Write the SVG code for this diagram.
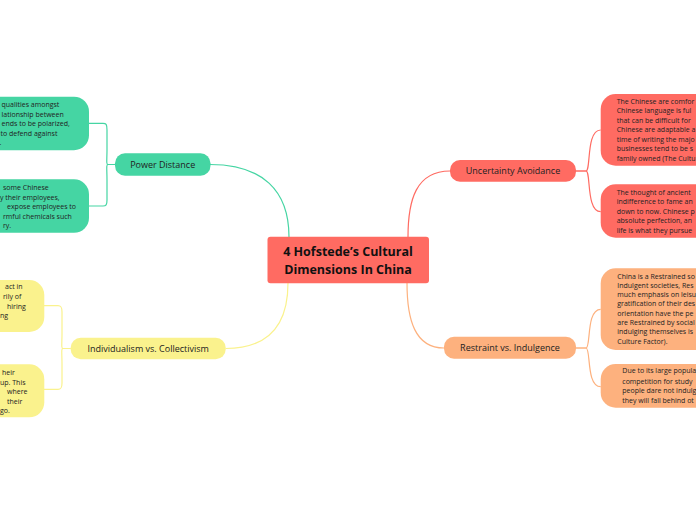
<svg xmlns="http://www.w3.org/2000/svg" width="696" height="520" viewBox="0 0 696 520">
<style>
  .c { fill: none; stroke-width: 1.2; }
  .t { font-family: "Open Sans", "Noto Sans", sans-serif; fill: #222; }
  .leaf { font-size: 7px; }
  .br { font-size: 9px; text-anchor: middle; }
  .ctr { font-size: 12.5px; font-weight: bold; text-anchor: middle; fill: #111; }
  .green { fill: #45D5A3; }
  .yellow { fill: #FAF28D; }
  .red { fill: #FF6B62; }
  .orange { fill: #FDB17E; }
</style>
<rect width="696" height="520" fill="#ffffff"/>
<g id="connectors">
  <path class="c" stroke="#45D5A3" d="M210,164.5 C262,164.5 289,190 289,237"/>
  <path class="c" stroke="#45D5A3" d="M115,164.5 H108 C106,164.5 107,160 107,150 V130 C107,124 106,123.3 103,123.3 H89"/>
  <path class="c" stroke="#45D5A3" d="M115,164.5 H108 C106,164.5 107,169 107,180 V200 C107,205 106,206 103,206 H89"/>
  <path class="c" stroke="#FAF28D" d="M225.5,348.5 C272,348.5 288,322 288,283"/>
  <path class="c" stroke="#FAF28D" d="M70.7,348.5 H63 C61,348.5 62,344 62,334 V312 C62,307 61,305.7 58,305.7 H44"/>
  <path class="c" stroke="#FAF28D" d="M70.7,348.5 H63 C61,348.5 62,353 62,364 V383 C62,388 61,389.3 58,389.3 H44"/>
  <path class="c" stroke="#FF6B62" d="M450,171 C416,171 408,200 408,237"/>
  <path class="c" stroke="#FF6B62" d="M576,171 H586 C591,171 586,130 600.7,130"/>
  <path class="c" stroke="#FF6B62" d="M576,171 H586 C591,171 586,211.7 600.7,211.7"/>
  <path class="c" stroke="#FDB17E" d="M444,348 C415,348 407,320 407,283"/>
  <path class="c" stroke="#FDB17E" d="M576,348 H586 C591,348 586,309.3 600.7,309.3"/>
  <path class="c" stroke="#FDB17E" d="M576,348 H586 C591,348 586,386.7 600.7,386.7"/>
</g>
<g id="center">
  <rect class="red" x="267.5" y="236.8" width="161.5" height="46.4" rx="3"/>
  <text class="t ctr" x="348" y="256.3">4 Hofstede’s Cultural</text>
  <text class="t ctr" x="348" y="274">Dimensions In China</text>
</g>
<g id="power-distance">
  <rect class="green" x="115" y="153.3" width="95.5" height="22.4" rx="10"/>
  <text class="t br" x="162.7" y="167.8">Power Distance</text>
</g>
<g id="pd-leaf-1">
  <rect class="green" x="-30" y="96.7" width="119" height="53.5" rx="15"/>
  <text class="t leaf" x="1.5" y="107.2">qualities amongst</text>
  <text class="t leaf" x="1.5" y="116.7">lationship between</text>
  <text class="t leaf" x="1.5" y="126.2">ends to be polarized,</text>
  <text class="t leaf" x="0.5" y="135.7">to defend against</text>
  <text class="t leaf" x="-0.5" y="145.2">.</text>
</g>
<g id="pd-leaf-2">
  <rect class="green" x="-30" y="179.3" width="119" height="53.5" rx="15"/>
  <text class="t leaf" x="3" y="190">some Chinese</text>
  <text class="t leaf" x="0" y="199.5">y their employees,</text>
  <text class="t leaf" x="7" y="209">expose employees to</text>
  <text class="t leaf" x="3" y="218.5">rmful chemicals such</text>
  <text class="t leaf" x="3" y="228">ry.</text>
</g>
<g id="individualism">
  <rect class="yellow" x="70.7" y="337.7" width="155" height="21.6" rx="10"/>
  <text class="t br" x="148.2" y="351.7">Individualism vs. Collectivism</text>
</g>
<g id="ic-leaf-1">
  <rect class="yellow" x="-30" y="280" width="74.3" height="52" rx="15"/>
  <text class="t leaf" x="5" y="289.2">act in</text>
  <text class="t leaf" x="3" y="298.9">rily of</text>
  <text class="t leaf" x="7" y="308.6">hiring</text>
  <text class="t leaf" x="0" y="318.3">ng</text>
</g>
<g id="ic-leaf-2">
  <rect class="yellow" x="-30" y="364.3" width="74.3" height="53" rx="15"/>
  <text class="t leaf" x="2" y="375">heir</text>
  <text class="t leaf" x="0" y="384.5">up. This</text>
  <text class="t leaf" x="7" y="394">where</text>
  <text class="t leaf" x="7" y="403.5">their</text>
  <text class="t leaf" x="0" y="413">go.</text>
</g>
<g id="uncertainty-avoidance">
  <rect class="red" x="450" y="160" width="126" height="21.7" rx="10"/>
  <text class="t br" x="513" y="174.2">Uncertainty Avoidance</text>
</g>
<g id="ua-leaf-1">
  <rect class="red" x="600.7" y="94" width="130" height="71.7" rx="15"/>
  <text class="t leaf" x="616.7" y="103.5">The Chinese are comfor</text>
  <text class="t leaf" x="616.7" y="113">Chinese language is ful</text>
  <text class="t leaf" x="616.7" y="122.5">that can be difficult for</text>
  <text class="t leaf" x="616.7" y="132">Chinese are adaptable a</text>
  <text class="t leaf" x="616.7" y="141.5">time of writing the majo</text>
  <text class="t leaf" x="616.7" y="151">businesses tend to be s</text>
  <text class="t leaf" x="616.7" y="160.5">family owned (The Cultu</text>
</g>
<g id="ua-leaf-2">
  <rect class="red" x="600.7" y="184.3" width="130" height="53.4" rx="15"/>
  <text class="t leaf" x="616.7" y="194.8">The thought of ancient</text>
  <text class="t leaf" x="616.7" y="204.3">indifference to fame an</text>
  <text class="t leaf" x="616.7" y="213.8">down to now. Chinese p</text>
  <text class="t leaf" x="616.7" y="223.3">absolute perfection, an</text>
  <text class="t leaf" x="616.7" y="232.8">life is what they pursue</text>
</g>
<g id="restraint-indulgence">
  <rect class="orange" x="444" y="336.7" width="132" height="22" rx="10"/>
  <text class="t br" x="510" y="351.2">Restraint vs. Indulgence</text>
</g>
<g id="ri-leaf-1">
  <rect class="orange" x="600.7" y="268.3" width="130" height="81.7" rx="15"/>
  <text class="t leaf" x="617.3" y="278.5">China is a Restrained so</text>
  <text class="t leaf" x="617.3" y="287.8">Indulgent societies, Res</text>
  <text class="t leaf" x="617.3" y="297.1">much emphasis on leisu</text>
  <text class="t leaf" x="617.3" y="306.4">gratification of their des</text>
  <text class="t leaf" x="617.3" y="315.7">orientation have the pe</text>
  <text class="t leaf" x="617.3" y="325">are Restrained by social</text>
  <text class="t leaf" x="617.3" y="334.3">indulging themselves is</text>
  <text class="t leaf" x="617.3" y="343.6">Culture Factor).</text>
</g>
<g id="ri-leaf-2">
  <rect class="orange" x="600.7" y="364" width="130" height="43.7" rx="15"/>
  <text class="t leaf" x="622.3" y="373.3">Due to its large popula</text>
  <text class="t leaf" x="622.3" y="383.6">competition for study</text>
  <text class="t leaf" x="622.3" y="393.4">people dare not indulg</text>
  <text class="t leaf" x="622.3" y="403.2">they will fall behind ot</text>
</g>
</svg>
